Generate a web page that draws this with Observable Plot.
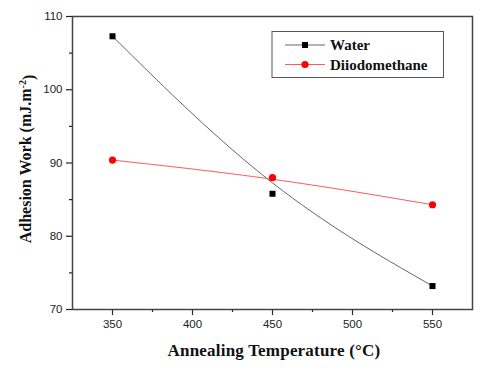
<!DOCTYPE html>
<html>
<head>
<meta charset="utf-8">
<script src="https://cdn.jsdelivr.net/npm/d3@7"></script>
<script src="https://cdn.jsdelivr.net/npm/@observablehq/plot@0.6"></script>
<style>
  body { margin: 0; background: white; }
  #chart svg { display: block; }
</style>
</head>
<body>
<div id="chart"></div>
<script>
const temperatures = [350, 450, 550];
const water = [107.3, 85.8, 73.2];
const diiodomethane = [90.4, 88.0, 84.3];
const seriesNames = ["Water", "Diiodomethane"];
const xTicks = [350, 400, 450, 500, 550];
const xMinor = [375, 425, 475, 525];
const yTicks = [70, 80, 90, 100, 110];
const yMinor = [75, 85, 95, 105];
const xLabel = "Annealing Temperature (°C)";

const waterData = temperatures.map((t, i) => ({t, v: water[i]}));
const diiData = temperatures.map((t, i) => ({t, v: diiodomethane[i]}));

const serif = "'Liberation Serif', 'Times New Roman', serif";

const plot = Plot.plot({
  width: 480, height: 368,
  marginLeft: 72, marginRight: 8, marginTop: 16, marginBottom: 59,
  style: {fontFamily: "'Liberation Sans', Arial, sans-serif", fontSize: "11.5px", color: "#222", background: "white"},
  x: {domain: [325, 575]},
  y: {domain: [70, 110]},
  marks: [
    Plot.axisX(xTicks, {tickSize: 6, tickPadding: 4, label: null, tickFormat: d => d, strokeWidth: 1.2}),
    Plot.axisX(xMinor, {tickSize: 3, label: null, tickFormat: () => "", strokeWidth: 1.2}),
    Plot.axisY(yTicks, {tickSize: 6, tickPadding: 4, label: null, tickFormat: d => d, strokeWidth: 1.2}),
    Plot.axisY(yMinor, {tickSize: 3, label: null, tickFormat: () => "", strokeWidth: 1.2}),
    Plot.line(waterData, {x: "t", y: "v", curve: "basis", stroke: "#666", strokeWidth: 1}),
    Plot.line(diiData, {x: "t", y: "v", curve: "basis", stroke: "#ff5a5a", strokeWidth: 1}),
    Plot.dot(waterData, {x: "t", y: "v", symbol: "square", r: 3.4, fill: "black"}),
    Plot.dot(diiData, {x: "t", y: "v", symbol: "circle", r: 3.6, fill: "#ff0000"}),
    Plot.frame({stroke: "#444", strokeWidth: 1.5})
  ]
});

document.getElementById("chart").appendChild(plot);
const svg = d3.select(plot);

// Y axis label with superscript
const yl = svg.append("text")
  .attr("transform", "translate(31,159) rotate(-90)")
  .attr("text-anchor", "middle")
  .style("font-family", serif)
  .style("font-weight", "bold")
  .style("font-size", "16px")
  .attr("fill", "#111");
yl.append("tspan").text("Adhesion Work (mJ.m");
yl.append("tspan").attr("dy", "-0.55em").style("font-size", "10px").text("-2");
yl.append("tspan").attr("dy", "0.55em").text(")");

// X axis label
svg.append("text")
  .attr("x", 274).attr("y", 356)
  .attr("text-anchor", "middle")
  .style("font-family", serif)
  .style("font-weight", "bold")
  .style("font-size", "17px")
  .style("letter-spacing", "0.2px")
  .attr("fill", "#111")
  .text(xLabel);

// Legend
const lg = svg.append("g").attr("text-anchor", "start");
lg.append("rect").attr("x", 272).attr("y", 31.5).attr("width", 171.5).attr("height", 46)
  .attr("fill", "white").attr("stroke", "#555").attr("stroke-width", 1);
const styles = [
  {stroke: "#666", fill: "black", sym: "square"},
  {stroke: "#ff5a5a", fill: "#ff0000", sym: "circle"}
];
seriesNames.forEach((name, i) => {
  const y = 45 + i * 19.5;
  const s = styles[i];
  lg.append("line").attr("x1", 285).attr("x2", 325).attr("y1", y).attr("y2", y)
    .attr("stroke", s.stroke).attr("stroke-width", 1);
  if (s.sym === "square") {
    lg.append("rect").attr("x", 302).attr("y", y - 3).attr("width", 6).attr("height", 6).attr("fill", s.fill);
  } else {
    lg.append("circle").attr("cx", 305).attr("cy", y).attr("r", 3.6).attr("fill", s.fill);
  }
  lg.append("text").attr("x", 330).attr("y", y).attr("dy", "0.35em")
    .attr("text-anchor", "start")
    .style("font-family", serif).style("font-weight", "bold").style("font-size", "15px")
    .attr("fill", "#111").text(name);
});
</script>
</body>
</html>
